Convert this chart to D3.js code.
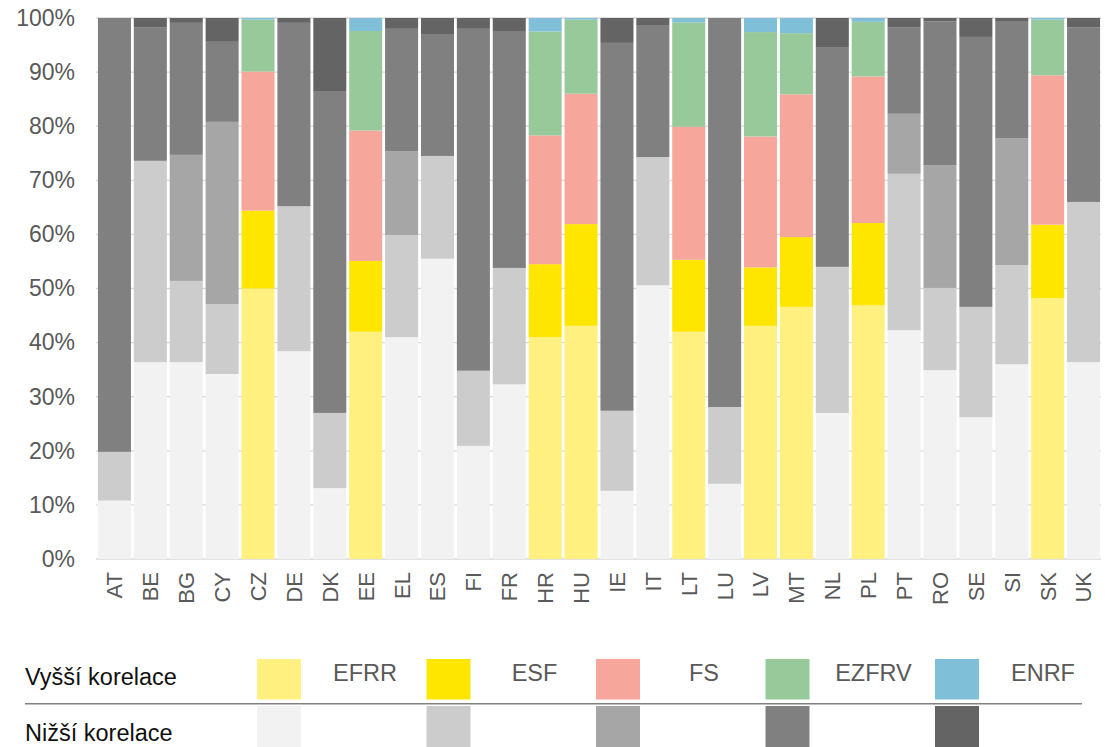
<!DOCTYPE html>
<html><head><meta charset="utf-8">
<script src="https://cdn.jsdelivr.net/npm/d3@7"></script>
<style>body{margin:0;background:#fff;} svg{display:block;font-family:"Liberation Sans",Arial,sans-serif;}</style>
</head><body>
<svg id="c" width="1105" height="747"></svg>
<script>
const countries = ["AT","BE","BG","CY","CZ","DE","DK","EE","EL","ES","FI","FR","HR","HU","IE","IT","LT","LU","LV","MT","NL","PL","PT","RO","SE","SI","SK","UK"];
const highCorr = ["CZ","EE","HR","HU","LT","LV","MT","PL","SK"];
const funds = ["EFRR","ESF","FS","EZFRV","ENRF"];
const EFRR  = [10.8,36.4,36.4,34.2,50.0,38.4,13.1,42.0,41.0,55.5,20.9,32.3,41.0,43.1,12.6,50.6,42.0,13.9,43.1,46.6,27.0,46.9,42.3,34.9,26.2,36.0,48.2,36.4];
const ESF   = [9.0,37.2,15.0,12.9,14.4,26.8,13.9,13.1,18.9,19.0,13.9,21.5,13.5,18.8,14.8,23.7,13.3,14.2,10.8,12.9,27.0,15.2,28.9,15.2,20.4,18.3,13.6,29.6];
const FS    = [0,0,23.3,33.7,25.7,0,0,24.1,15.5,0,0,0,23.8,24.1,0,0,24.6,0,24.2,26.4,0,27.1,11.1,22.7,0,23.5,27.6,0];
const EZFRV = [80.2,24.7,24.4,14.8,9.6,33.9,59.5,18.4,22.6,22.4,63.2,43.8,19.2,13.7,68.0,24.4,19.3,71.9,19.3,11.3,40.5,10.1,16.0,26.6,49.9,21.5,10.3,32.3];
const ENRF  = [0,1.7,0.9,4.4,0.3,0.9,13.5,2.4,2.0,3.1,2.0,2.4,2.5,0.3,4.6,1.3,0.8,0,2.6,2.8,5.5,0.7,1.7,0.6,3.5,0.7,0.3,1.7];
const yTicks = [0,10,20,30,40,50,60,70,80,90,100];
const legendRows = ["Vyšší korelace","Nižší korelace"];
const highColors = ["#fff07f","#ffe600","#f7a69c","#97c99b","#7fbfd7"];
const lowColors  = ["#f2f2f2","#cccccc","#a6a6a6","#808080","#646464"];

const rows = countries.map((c,i)=>({country:c,EFRR:EFRR[i],ESF:ESF[i],FS:FS[i],EZFRV:EZFRV[i],ENRF:ENRF[i]}));
const svg = d3.select("#c");
const x = d3.scaleBand().domain(countries).range([96.5,1101.5]).paddingInner(0.08).paddingOuter(0.04);
const y = d3.scaleLinear().domain([0,100]).range([559,18]);

// gridlines
svg.append("g").selectAll("line").data(yTicks).join("line")
  .attr("x1",96).attr("x2",1101).attr("y1",d=>y(d)).attr("y2",d=>y(d))
  .attr("stroke","#d9d9d9").attr("stroke-width",1.3);

// y labels
const yAxis = d3.axisLeft(y).tickValues(yTicks).tickFormat(d=>d+"%").tickSize(0).tickPadding(0);
const ya = svg.append("g").attr("transform","translate(75,0)").call(yAxis);
ya.select(".domain").remove();
ya.selectAll("text").attr("font-size",23).attr("fill","#595959").attr("font-family","Liberation Sans, Arial, sans-serif");

// bars
const stack = d3.stack().keys(funds)(rows);
const colorFor = (ki,c)=> highCorr.includes(c) ? highColors[ki] : lowColors[ki];
stack.forEach((layer,ki)=>{
  svg.append("g").selectAll("rect").data(layer).join("rect")
    .attr("x",d=>x(d.data.country)).attr("width",x.bandwidth())
    .attr("y",d=>y(d[1])).attr("height",d=>Math.max(0,y(d[0])-y(d[1])))
    .attr("fill",d=>colorFor(ki,d.data.country));
});

// x labels
const xAxis = d3.axisBottom(x).tickSize(0).tickPadding(0);
const xa = svg.append("g").attr("transform","translate(0,572)").call(xAxis);
xa.select(".domain").remove();
xa.selectAll("text").attr("font-size",22).attr("fill","#595959").attr("font-family","Liberation Sans, Arial, sans-serif")
  .attr("transform","rotate(-90)").attr("text-anchor","end").attr("dy","0.36em").attr("x",0).attr("y",0);

// legend
const lg = svg.append("g");
lg.selectAll("text.row").data(legendRows).join("text").attr("class","row")
  .attr("x",25).attr("y",(d,i)=>685+i*56).attr("font-size",23.5).attr("fill","#111").text(d=>d);
lg.append("line").attr("x1",25).attr("x2",1082).attr("y1",703.7).attr("y2",703.7).attr("stroke","#808080").attr("stroke-width",1.5);
const lx = d3.scalePoint().domain(funds).range([257,935]);
lg.selectAll("rect.h").data(funds).join("rect").attr("class","h")
  .attr("x",d=>lx(d)).attr("y",659).attr("width",44).attr("height",40.5).attr("fill",(d,i)=>highColors[i]);
lg.selectAll("rect.l").data(funds).join("rect").attr("class","l")
  .attr("x",d=>lx(d)).attr("y",706).attr("width",44).attr("height",45).attr("fill",(d,i)=>lowColors[i]);
lg.selectAll("text.f").data(funds).join("text").attr("class","f")
  .attr("x",d=>lx(d)+108).attr("y",680.5).attr("text-anchor","middle").attr("font-size",23.5).attr("fill","#595959").text(d=>d);
</script>
</body></html>
